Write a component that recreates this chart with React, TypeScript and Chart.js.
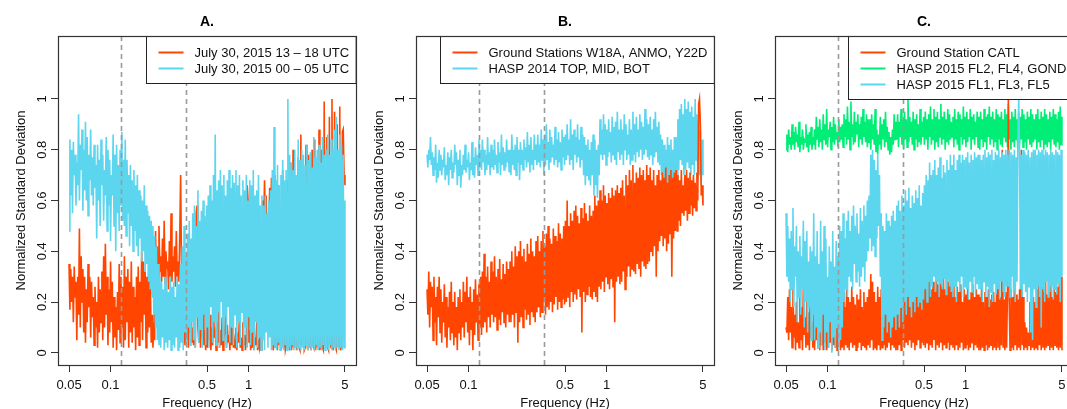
import { useEffect, useRef } from 'react';
import { Chart, registerables } from 'chart.js';

Chart.register(...registerables);

// ---------- axis / grid definitions ----------
const FREQ_MIN = 0.05;
const FREQ_MAX = 5;
const xTickValues = [0.05, 0.1, 0.5, 1, 5];
const yTickValues = [0, 0.2, 0.4, 0.6, 0.8, 1];
const Y_DATA_MIN = 0;
const Y_DATA_MAX = 1.2;
const markerFreqs = [0.12, 0.35];

// Series values are in hundredths of the normalized standard deviation,
// sampled on a log-spaced frequency grid from 0.05 Hz to 5 Hz.

// ---------- panel A ----------
const aRedLabel = 'July 30, 2015 13 \u2013 18 UTC';
const aBlueLabel = 'July 30, 2015 00 \u2013 05 UTC';
const aRed = [
  35,17,33,20,30,12,34,22,28,5,30,15,49,10,38,20,33,8,30,4,25,12,35,18,30,6,28,14,22,3,26,10,
  20,2,30,8,25,12,32,5,38,10,43,15,30,3,25,8,36,12,28,2,22,6,18,1,24,9,35,4,30,10,26,2,
  38,5,30,12,33,2,28,8,36,4,26,10,22,1,30,6,34,3,28,12,40,5,36,15,32,2,30,8,35,10,28,4,
  15,2,12,5,48,30,42,26,50,32,38,28,45,30,52,27,40,33,36,25,44,30,55,28,38,32,42,26,48,30,36,28,
  46,70,35,40,28,12,3,18,5,12,2,15,8,20,4,10,3,14,2,55,58,10,4,16,2,12,6,18,3,9,1,14,
  2,12,5,15,1,10,3,18,6,8,1,12,4,20,2,9,3,14,1,6,8,16,2,11,4,7,1,13,3,10,2,5,
  2,10,1,8,4,15,2,6,1,12,3,7,1,5,66,60,4,9,1,8,2,10,1,6,3,12,1,4,2,8,1,5,
  60,48,68,52,62,40,55,50,65,48,69,45,1,3,70,2,5,1,66,3,8,1,4,72,2,6,1,3,68,2,5,1,
  75,1,3,80,2,5,70,1,4,77,2,1,86,3,6,72,1,2,82,4,1,78,2,5,1,80,3,2,84,1,4,76,
  2,88,1,4,80,2,1,99,3,6,85,2,1,93,4,2,100,1,3,95,2,1,90,5,2,97,1,3,87,88,70,66,
];
const aBlue = [
  48,84,62,80,55,83,70,78,58,75,66,94,60,82,72,88,56,80,64,91,60,85,54,78,68,88,62,77,58,82,65,74,
  45,82,60,76,50,84,66,78,52,72,62,85,48,80,58,76,44,70,62,86,50,78,40,82,55,74,48,80,58,87,52,76,
  50,84,46,76,55,70,42,74,50,68,40,72,48,66,42,70,38,64,45,62,36,60,40,66,32,58,35,56,28,54,25,52,
  22,50,15,46,10,42,5,35,3,30,2,28,6,25,1,30,4,27,2,24,5,30,1,26,3,28,2,22,6,30,1,27,
  2,35,4,42,1,50,8,38,2,47,10,52,3,45,12,55,5,58,2,50,14,64,4,52,9,56,2,60,15,54,3,58,
  10,62,2,66,18,60,4,70,12,86,3,64,16,68,2,72,20,66,5,70,14,62,2,68,18,72,4,65,10,70,3,67,
  15,72,2,66,12,70,3,62,16,68,1,64,10,70,2,60,14,68,3,66,8,72,1,62,12,64,2,70,6,58,1,62,
  5,58,1,62,8,55,2,60,6,64,1,72,3,89,2,68,1,74,4,66,1,70,2,76,1,68,3,72,1,100,2,78,
  1,75,3,72,1,80,2,70,1,84,2,76,1,80,2,78,1,74,3,82,1,76,2,79,1,73,2,85,1,77,3,80,
  1,82,2,75,1,85,3,78,1,80,2,86,1,78,3,84,1,80,2,88,1,93,2,80,1,86,2,82,1,78,2,60,
];

// ---------- panel B ----------
const bRedLabel = 'Ground Stations W18A, ANMO, Y22D';
const bBlueLabel = 'HASP 2014 TOP, MID, BOT';
const bRed = [
  25,15,32,10,28,18,26,5,30,12,22,3,26,14,30,8,25,4,20,12,27,6,22,2,18,10,24,5,28,8,20,3,
  24,6,18,1,22,8,25,5,20,10,28,6,24,12,30,8,22,3,26,9,20,1,25,7,29,12,23,5,27,10,30,7,
  32,10,39,12,30,8,34,14,28,10,36,15,32,12,38,14,30,9,33,13,37,11,29,16,35,12,31,10,36,15,33,12,
  36,12,40,15,34,10,42,16,38,4,40,12,44,14,38,10,41,17,36,13,43,15,39,11,45,16,40,14,38,12,44,16,
  46,18,40,14,44,16,48,20,42,15,47,18,50,17,45,20,43,16,49,19,46,22,44,17,51,20,47,18,45,21,50,19,
  52,20,60,22,50,18,55,24,52,20,56,23,58,21,54,25,51,22,57,8,53,24,59,20,55,23,52,26,58,22,54,21,
  56,24,62,22,58,20,60,26,64,25,60,28,66,24,62,30,59,27,63,25,61,29,65,26,62,12,64,28,66,30,63,27,
  65,28,68,32,62,25,70,30,66,34,72,30,68,33,74,32,67,31,71,35,69,33,73,30,70,36,72,34,68,33,74,35,
  70,36,73,40,68,38,72,42,66,30,70,40,72,44,68,46,71,42,69,45,73,40,67,43,70,47,72,30,69,45,71,48,
  72,48,70,52,68,50,72,55,66,54,70,56,72,52,69,55,71,58,68,54,70,57,67,56,71,60,98,100,90,62,66,58,
];
const bBlue = [
  78,73,80,76,85,74,79,70,77,72,82,67,75,69,80,72,78,70,76,73,81,68,74,70,79,66,77,72,80,69,75,71,
  82,74,79,66,76,70,80,65,74,70,78,72,82,71,76,73,79,68,75,72,83,70,77,69,81,74,78,70,84,73,80,72,
  84,75,80,70,78,72,85,74,79,70,82,73,80,72,84,74,78,71,83,75,79,70,86,74,81,72,79,73,84,75,80,71,
  80,70,86,74,80,72,82,70,85,75,80,68,83,74,80,72,84,76,81,73,87,75,82,71,85,74,80,72,86,76,82,74,
  86,75,82,73,88,76,84,70,86,74,90,76,83,72,88,75,85,77,82,74,89,76,84,73,87,75,83,72,88,77,85,74,
  86,76,90,78,84,74,92,76,86,72,88,78,85,75,90,77,84,73,89,76,86,70,85,66,82,70,84,68,80,66,83,70,
  86,62,84,66,80,61,82,70,92,78,88,76,94,78,90,74,88,77,92,79,87,75,93,78,89,76,91,74,95,79,88,76,
  92,78,88,74,94,80,90,76,86,78,92,74,88,76,95,78,90,75,93,79,88,77,94,80,91,76,89,78,96,80,92,77,
  90,76,93,78,88,74,92,77,95,79,89,75,91,74,86,70,84,66,82,62,80,64,85,66,82,60,84,64,80,62,85,66,
  85,68,92,72,96,76,98,74,94,70,100,72,96,75,99,73,95,70,97,74,93,70,100,76,94,68,92,70,88,66,84,70,
];

// ---------- panel C ----------
const cRedLabel = 'Ground Station CATL';
const cGreenLabel = 'HASP 2015 FL2, FL4, GOND';
const cBlueLabel = 'HASP 2015 FL1, FL3, FL5';
const cRed = [
  10,8,22,5,25,8,18,2,28,6,15,1,20,4,12,2,22,5,18,1,26,7,14,2,20,3,16,1,24,6,12,2,
  18,1,22,5,14,2,20,1,16,3,25,1,18,4,15,1,21,2,17,4,13,1,19,3,22,2,16,1,20,5,14,1,
  20,2,24,1,18,3,25,2,22,1,20,4,26,2,22,3,19,1,23,2,21,4,25,1,18,3,24,2,20,1,22,3,
  25,2,31,5,28,1,24,2,20,1,26,3,22,1,25,2,21,3,27,1,23,2,19,4,26,1,22,3,24,2,28,1,
  20,1,28,3,24,1,30,5,26,2,28,4,32,3,27,5,25,2,29,4,31,1,26,3,28,5,30,2,27,4,29,3,
  30,2,26,4,28,1,32,3,25,2,28,5,24,1,29,3,27,2,31,4,26,1,30,3,25,2,29,4,28,1,27,3,
  25,2,28,1,22,3,26,1,24,2,27,4,20,1,25,2,23,3,26,1,21,2,24,4,27,1,22,3,25,2,23,1,
  22,1,26,2,20,1,24,3,22,1,25,2,21,3,23,1,24,2,20,1,70,2,25,1,22,3,80,2,21,1,24,2,
  24,100,20,1,25,2,22,1,26,3,23,1,21,2,25,1,80,3,22,1,12,2,10,1,8,3,20,1,24,2,22,1,
  20,2,25,1,28,3,22,1,26,2,24,1,28,2,23,3,25,1,27,2,22,1,29,3,24,2,26,1,28,2,30,1,
];
const cGreen = [
  80,86,79,88,82,85,80,90,82,87,80,89,83,86,81,91,79,85,82,88,80,84,83,90,81,86,79,87,82,89,80,85,
  82,88,80,93,84,89,81,92,83,88,80,94,84,90,82,96,81,88,85,91,80,89,83,93,82,90,84,87,81,92,83,89,
  84,90,81,94,85,92,82,97,84,91,80,99,85,90,82,95,83,91,86,94,81,90,84,93,82,96,85,91,83,94,81,92,
  83,92,80,94,84,90,82,96,79,88,78,86,82,93,80,90,84,92,81,95,83,89,80,87,78,85,79,88,82,94,84,91,
  84,94,81,91,85,96,82,92,80,95,84,92,81,100,83,93,85,91,82,95,80,92,84,94,81,90,83,96,82,91,85,93,
  82,95,84,92,80,94,85,97,82,92,84,96,80,93,83,95,81,92,85,98,82,93,84,95,80,92,83,96,82,94,84,91,
  85,93,81,96,84,92,82,95,80,94,85,92,82,97,84,93,81,95,83,92,85,96,80,93,84,94,82,91,85,95,81,93,
  80,95,84,92,81,96,83,93,80,94,85,97,82,93,84,95,81,92,83,96,80,94,84,93,82,95,81,92,85,96,83,94,
  81,98,84,92,80,95,83,93,81,96,84,92,80,95,82,93,84,96,81,94,83,92,80,95,84,93,82,96,81,94,83,92,
  84,94,80,96,83,92,81,95,84,93,80,96,82,94,81,92,83,95,80,93,84,96,82,94,81,92,83,95,80,97,82,93,
];
const cBlue = [
  55,30,50,28,45,20,48,25,57,18,42,30,50,12,40,22,46,15,38,25,52,10,44,20,48,8,36,18,42,5,40,15,
  55,5,38,10,48,2,35,8,52,3,40,15,50,1,45,8,30,2,42,12,36,0,48,6,34,2,44,10,38,1,50,5,
  48,10,55,20,45,25,52,22,56,30,48,28,54,25,58,35,50,28,55,32,47,26,57,30,52,34,58,28,54,36,60,40,
  62,45,78,40,80,42,76,38,72,45,78,50,70,30,55,5,50,10,48,15,55,8,52,12,50,6,54,10,56,14,52,9,
  58,15,60,10,56,18,62,12,58,20,64,15,60,22,65,18,57,14,62,20,59,16,64,22,61,18,66,20,58,17,63,21,
  66,25,70,20,68,28,75,22,70,26,72,30,76,24,70,28,73,22,77,27,69,25,74,29,71,23,76,28,72,26,78,24,
  74,22,78,26,72,20,76,28,78,24,75,30,78,22,76,26,77,25,79,21,75,28,78,24,76,30,79,23,77,27,78,25,
  78,25,76,20,78,28,80,22,77,26,79,18,78,24,80,20,76,27,79,23,78,25,80,21,77,28,79,24,78,22,80,26,
  78,26,80,22,79,30,78,24,80,20,77,28,80,100,79,25,78,22,80,27,79,24,78,20,80,26,77,8,79,5,80,25,
  80,18,78,26,80,22,79,10,80,25,78,20,80,28,79,22,78,24,80,26,79,21,78,25,80,23,79,27,78,20,80,30,
];

// ---------- styling ----------
const RED = '#FF4500';
const BLUE = '#5CD5EE';
const GREEN = '#00EE76';
const FONT = "'Liberation Sans', Arial, Helvetica, sans-serif";

type Series = { label: string; color: string; values: number[]; order: number };
type Panel = { title: string; left: number; width: number; series: Series[]; legend: string[] };

const panels: Panel[] = [
  {
    title: 'A.', left: 0, width: 358,
    series: [
      { label: aRedLabel, color: RED, values: aRed, order: 1 },
      { label: aBlueLabel, color: BLUE, values: aBlue, order: 0 },
    ],
    legend: [aRedLabel, aBlueLabel],
  },
  {
    title: 'B.', left: 358, width: 358,
    series: [
      { label: bRedLabel, color: RED, values: bRed, order: 0 },
      { label: bBlueLabel, color: BLUE, values: bBlue, order: 1 },
    ],
    legend: [bRedLabel, bBlueLabel],
  },
  {
    title: 'C.', left: 717, width: 360,
    series: [
      { label: cRedLabel, color: RED, values: cRed, order: 1 },
      { label: cGreenLabel, color: GREEN, values: cGreen, order: 2 },
      { label: cBlueLabel, color: BLUE, values: cBlue, order: 0 },
    ],
    legend: [cRedLabel, cGreenLabel, cBlueLabel],
  },
];

const CANVAS_H = 420;
const AREA_LEFT = 58;
const AREA_RIGHT = 356;
const AREA_TOP = 36;
const AREA_BOTTOM = 365;

// sampling grid (log-spaced frequencies) for n values
function freqGrid(n: number): number[] {
  const out: number[] = [];
  for (let i = 0; i < n; i++) out.push(FREQ_MIN * Math.pow(FREQ_MAX / FREQ_MIN, i / (n - 1)));
  return out;
}

function PanelChart({ panel }: { panel: Panel }) {
  const ref = useRef<HTMLCanvasElement | null>(null);
  useEffect(() => {
    if (!ref.current) return;
    const xSpan = Math.log10(FREQ_MAX / FREQ_MIN) * 0.04;
    const xMin = FREQ_MIN / Math.pow(10, xSpan);
    const xMax = FREQ_MAX * Math.pow(10, xSpan);
    const ySpan = (Y_DATA_MAX - Y_DATA_MIN) * 0.04;
    const legendColors = panel.legend.map((l) => panel.series.find((s) => s.label === l)!.color);

    const overlay = {
      id: 'overlay',
      afterDatasetsDraw(chart: any) {
        const { ctx, chartArea } = chart;
        const xs = chart.scales.x;
        ctx.save();
        // dashed reference lines
        ctx.strokeStyle = '#9a9a9a';
        ctx.lineWidth = 1.6;
        ctx.setLineDash([5, 4]);
        markerFreqs.forEach((f) => {
          const px = Math.round(xs.getPixelForValue(f)) + 0.5;
          ctx.beginPath();
          ctx.moveTo(px, chartArea.top);
          ctx.lineTo(px, chartArea.bottom);
          ctx.stroke();
        });
        ctx.setLineDash([]);
        // legend
        ctx.font = `13px ${FONT}`;
        const maxW = Math.max(...panel.legend.map((t) => ctx.measureText(t).width));
        const boxW = 48 + maxW + 7;
        const boxH = 16 * panel.legend.length + 15;
        const bx = Math.round(chartArea.right - boxW) + 0.5;
        const by = Math.round(chartArea.top) + 0.5;
        ctx.fillStyle = '#fff';
        ctx.fillRect(bx, by, boxW, boxH);
        ctx.strokeStyle = '#222';
        ctx.lineWidth = 1;
        ctx.strokeRect(bx, by, boxW, boxH);
        panel.legend.forEach((t, k) => {
          const cy = by + 16 * (k + 1);
          ctx.strokeStyle = legendColors[k];
          ctx.lineWidth = 2;
          ctx.beginPath();
          ctx.moveTo(bx + 12, cy);
          ctx.lineTo(bx + 37, cy);
          ctx.stroke();
          ctx.fillStyle = '#111';
          ctx.textAlign = 'left';
          ctx.textBaseline = 'middle';
          ctx.fillText(t, bx + 48, cy + 0.5);
        });
        ctx.restore();
      },
      afterDraw(chart: any) {
        const { ctx, chartArea } = chart;
        const ys = chart.scales.y;
        ctx.save();
        // plot frame
        ctx.strokeStyle = '#333';
        ctx.lineWidth = 1.2;
        ctx.strokeRect(
          Math.round(chartArea.left) + 0.5,
          Math.round(chartArea.top) + 0.5,
          Math.round(chartArea.right - chartArea.left),
          Math.round(chartArea.bottom - chartArea.top)
        );
        // rotated y tick labels
        ctx.fillStyle = '#111';
        ctx.font = `13px ${FONT}`;
        ctx.textAlign = 'center';
        ctx.textBaseline = 'middle';
        ys.ticks.forEach((t: any) => {
          const py = ys.getPixelForValue(t.value);
          ctx.save();
          ctx.translate(chartArea.left - 16, py);
          ctx.rotate(-Math.PI / 2);
          ctx.fillText(String(t.value), 0, 0);
          ctx.restore();
        });
        // panel title
        ctx.font = `bold 14px ${FONT}`;
        ctx.fillStyle = '#000';
        ctx.fillText(panel.title, (chartArea.left + chartArea.right) / 2, 22);
        ctx.restore();
      },
    };

    const chart = new Chart(ref.current, {
      type: 'line',
      data: {
        datasets: panel.series.map((s) => {
          const grid = freqGrid(s.values.length);
          return {
            label: s.label,
            data: s.values.map((v, i) => ({ x: grid[i], y: v / 100 })),
            borderColor: s.color,
            backgroundColor: s.color,
            borderWidth: 1.6,
            pointRadius: 0,
            tension: 0,
            fill: false,
            order: s.order,
          };
        }),
      },
      options: {
        animation: false,
        responsive: false,
        maintainAspectRatio: false,
        devicePixelRatio: 1,
        events: [],
        layout: { padding: { left: 0, right: panel.width - AREA_RIGHT, top: AREA_TOP, bottom: 0 } },
        plugins: { legend: { display: false }, tooltip: { enabled: false }, title: { display: false } },
        scales: {
          x: {
            type: 'logarithmic',
            min: xMin,
            max: xMax,
            afterBuildTicks: (s: any) => {
              s.ticks = xTickValues.map((v) => ({ value: v }));
            },
            afterFit: (s: any) => {
              s.height = CANVAS_H - AREA_BOTTOM;
            },
            ticks: {
              callback: (v: any) => String(v),
              autoSkip: false,
              maxRotation: 0,
              minRotation: 0,
              padding: 6,
              color: '#111',
              font: { family: FONT, size: 13 },
            },
            grid: { display: true, drawOnChartArea: false, drawTicks: true, tickLength: 7, color: '#333', lineWidth: 1 },
            border: { display: false },
            title: {
              display: true,
              text: 'Frequency (Hz)',
              color: '#111',
              font: { family: FONT, size: 13 },
              padding: { top: 0, bottom: 9 },
            },
          },
          y: {
            type: 'linear',
            min: Y_DATA_MIN - ySpan,
            max: Y_DATA_MAX + ySpan,
            afterBuildTicks: (s: any) => {
              s.ticks = yTickValues.map((v) => ({ value: v }));
            },
            afterFit: (s: any) => {
              s.width = AREA_LEFT;
            },
            ticks: { display: false },
            grid: { display: true, drawOnChartArea: false, drawTicks: true, tickLength: 7, color: '#333', lineWidth: 1 },
            border: { display: false },
            title: {
              display: true,
              text: 'Normalized Standard Deviation',
              color: '#111',
              font: { family: FONT, size: 13 },
              padding: { top: 14, bottom: 0 },
            },
          },
        },
      } as any,
      plugins: [overlay],
    });
    return () => chart.destroy();
  }, [panel]);

  return (
    <canvas
      ref={ref}
      width={panel.width}
      height={CANVAS_H}
      style={{ position: 'absolute', left: panel.left, top: 0, width: panel.width, height: CANVAS_H }}
    />
  );
}

export default function App() {
  return (
    <div
      style={{
        position: 'fixed',
        left: 0,
        top: 0,
        width: 1067,
        height: 409,
        overflow: 'hidden',
        background: '#fff',
      }}
    >
      {panels.map((p) => (
        <PanelChart key={p.title} panel={p} />
      ))}
    </div>
  );
}
